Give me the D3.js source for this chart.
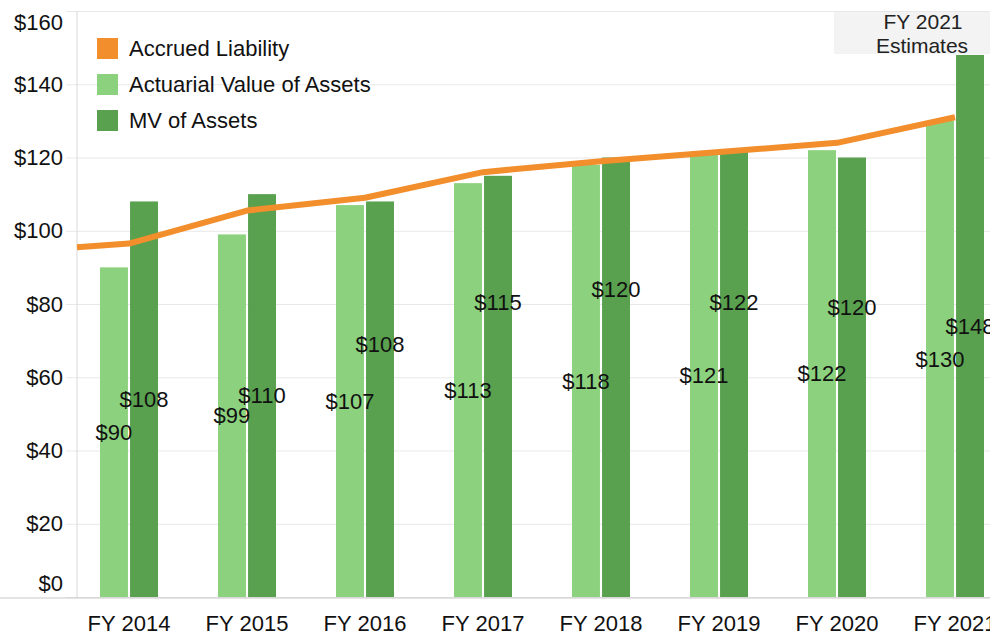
<!DOCTYPE html>
<html>
<head>
<meta charset="utf-8">
<script src="https://cdn.jsdelivr.net/npm/d3@7"></script>
<style>
  body { margin: 0; background: #fff; }
  svg { display: block; font-family: "Liberation Sans", Arial, sans-serif; }
</style>
</head>
<body>
<div id="chart"></div>
<script>
// values ($ billions)
var years = ["FY 2014", "FY 2015", "FY 2016", "FY 2017", "FY 2018", "FY 2019", "FY 2020", "FY 2021"];
var actuarial = [90, 99, 107, 113, 118, 121, 122, 130];
var marketValue = [108, 110, 108, 115, 120, 122, 120, 148];
var liability = [96.5, 105.5, 109, 116, 119, 121.5, 124, 131];
var liabilityStart = 95.5;   // value where the line meets the left edge
var mvLabelLevel = [54, 55, 69, 80.5, 84, 80.5, 79, 74];  // where the MV labels sit (in $)
var yTicks = [0, 20, 40, 60, 80, 100, 120, 140, 160];
var seriesNames = ["Accrued Liability", "Actuarial Value of Assets", "MV of Assets"];

var palette = ["#f28e2b", "#8cd17d", "#59a14f"];
var font = { big: 22, note: 21 };

var width = 990, height = 636;
var plotLeft = 77, plotTop = 11, plotBottom = 597;

var svg = d3.select("#chart").append("svg")
    .attr("width", width)
    .attr("height", height);

let y = d3.scaleLinear().domain([0, 160]).range([plotBottom, plotTop]);
let x = d3.scaleBand().domain(years).range([70, 1014]);
let inner = d3.scaleBand().domain(["ava", "mv"]).range([30, 88]).paddingInner(0.07);

// grid + y labels
let yAxis = svg.append("g").attr("class", "axis axis--y")
    .attr("transform", "translate(66,0)")
    .call(d3.axisLeft(y).tickValues(yTicks).tickFormat(d => "$" + d).tickSize(-(width - 66)).tickPadding(3));
yAxis.select(".domain").remove();
yAxis.selectAll(".tick line").attr("stroke", "#e8e8e8");
yAxis.selectAll(".tick text")
    .attr("font-size", font.big)
    .attr("fill", "#111")
    .attr("font-family", "Liberation Sans, Arial, sans-serif");
yAxis.selectAll(".tick").filter(d => d == 160).select("text").attr("dy", "0.32em").attr("y", 11);
yAxis.selectAll(".tick").filter(d => d == 0).select("text").attr("y", -14);

// left edge of plot
svg.append("line")
    .attr("x1", plotLeft).attr("x2", plotLeft)
    .attr("y1", plotTop).attr("y2", plotBottom + 1)
    .attr("stroke", "#d9d9d9");

// estimates box
svg.append("rect")
    .attr("x", 834).attr("y", plotTop + 1)
    .attr("width", width - 834).attr("height", 42)
    .attr("fill", "#f3f3f3");
svg.append("text")
    .attr("x", 923).attr("y", 29)
    .attr("text-anchor", "middle")
    .attr("font-size", font.note)
    .attr("fill", "#222")
    .text("FY 2021");
svg.append("text")
    .attr("x", 922).attr("y", 53)
    .attr("text-anchor", "middle")
    .attr("font-size", font.note)
    .attr("fill", "#222")
    .text("Estimates");

// bars
let barGroup = svg.append("g").attr("class", "bars");
barGroup.selectAll(".bar--ava")
    .data(actuarial).enter()
    .append("rect")
        .attr("class", "bar--ava")
        .attr("x", (d, i) => x(years[i]) + inner("ava"))
        .attr("y", d => y(d))
        .attr("width", inner.bandwidth())
        .attr("height", d => y(0) - y(d))
        .attr("fill", palette[1]);
barGroup.selectAll(".bar--mv")
    .data(marketValue).enter()
    .append("rect")
        .attr("class", "bar--mv")
        .attr("x", (d, i) => x(years[i]) + inner("mv"))
        .attr("y", d => y(d))
        .attr("width", inner.bandwidth())
        .attr("height", d => y(0) - y(d))
        .attr("fill", palette[2]);

// x axis
let xAxis = svg.append("g").attr("class", "axis axis--x")
    .attr("transform", "translate(0," + (plotBottom + 1) + ")")
    .call(d3.axisBottom(x).tickSize(0).tickPadding(17));
xAxis.select(".domain").remove();
xAxis.selectAll(".tick text")
    .attr("font-size", font.big)
    .attr("fill", "#111")
    .attr("font-family", "Liberation Sans, Arial, sans-serif");
svg.append("line")
    .attr("x1", 0).attr("x2", width)
    .attr("y1", plotBottom + 1).attr("y2", plotBottom + 1)
    .attr("stroke", "#c9c9c9");

// accrued liability line
let linePts = [{ x: plotLeft, v: liabilityStart }];
liability.forEach(function(d, i) {
    linePts.push({ x: x(years[i]) + x.bandwidth() / 2, v: d });
});
svg.append("path")
    .datum(linePts)
    .attr("fill", "none")
    .attr("stroke", palette[0])
    .attr("stroke-width", 6)
    .attr("stroke-linejoin", "round")
    .attr("d", d3.line().x(d => d.x).y(d => y(d.v)));

// value labels
let labelGroup = svg.append("g").attr("class", "labels");
labelGroup.selectAll(".lbl--ava")
    .data(actuarial).enter()
    .append("text")
        .attr("x", (d, i) => x(years[i]) + inner("ava") + inner.bandwidth() / 2)
        .attr("y", d => y(d / 2))
        .attr("dy", "0.35em")
        .attr("text-anchor", "middle")
        .attr("font-size", font.big)
        .attr("fill", "#111")
        .text(d => "$" + d);
labelGroup.selectAll(".lbl--mv")
    .data(marketValue).enter()
    .append("text")
        .attr("x", (d, i) => x(years[i]) + inner("mv") + inner.bandwidth() / 2)
        .attr("y", (d, i) => y(mvLabelLevel[i]))
        .attr("dy", "0.35em")
        .attr("text-anchor", "middle")
        .attr("font-size", font.big)
        .attr("fill", "#111")
        .text(d => "$" + d);

// legend
let legend = svg.append("g").attr("class", "legend");
seriesNames.forEach(function(name, i) {
    let row = legend.append("g").attr("transform", "translate(97," + (38 + i * 36) + ")");
    row.append("rect")
        .attr("width", 21).attr("height", 21)
        .attr("fill", palette[i]);
    row.append("text")
        .attr("x", 32).attr("y", 10.5)
        .attr("dy", "0.35em")
        .attr("font-size", font.big)
        .attr("fill", "#111")
        .text(name);
});
</script>
</body>
</html>
